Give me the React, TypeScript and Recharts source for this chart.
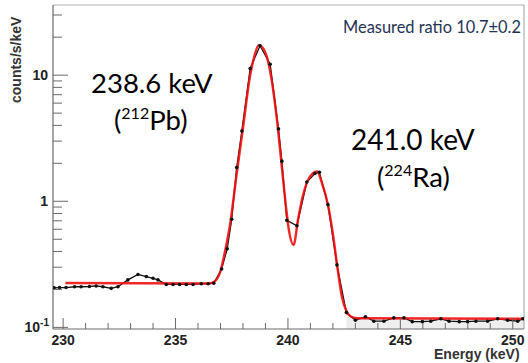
import React from 'react';
import { ComposedChart, Line, Area, XAxis, YAxis, ReferenceLine, Customized } from 'recharts';

// Measured spectrum (black points)
const energy = [
  229.6, 229.84, 230.13, 230.51, 230.8, 231.17, 231.47, 231.77, 232.14, 232.44,
  232.88, 233.33, 233.7, 234.0, 234.22, 234.59, 234.89, 235.18, 235.48, 235.78,
  236.15, 236.45, 236.7, 237.05, 237.3, 237.5, 237.72, 237.95, 238.32, 238.76,
  239.21, 239.58, 239.73, 239.95, 240.4, 240.84, 241.2, 241.4, 241.78, 242.18,
  242.6, 243.0, 243.45, 243.82, 244.27, 244.71, 245.16, 245.53, 245.98, 246.35,
  246.8, 247.17, 247.62, 247.99, 248.36, 248.88, 249.33, 249.77, 250.22, 250.45,
];
const counts = [
  0.206, 0.207, 0.207, 0.21, 0.21, 0.211, 0.213, 0.21, 0.204, 0.21,
  0.238, 0.263, 0.253, 0.245, 0.238, 0.219, 0.219, 0.219, 0.219, 0.219,
  0.222, 0.222, 0.224, 0.29, 0.42, 0.72, 1.85, 3.6, 11.3, 17.1,
  12.2, 3.75, 2.08, 0.706, 0.64, 1.42, 1.66, 1.7, 0.94, 0.313,
  0.131, 0.114, 0.1216, 0.112, 0.112, 0.119, 0.119, 0.111, 0.111, 0.112,
  0.117, 0.112, 0.111, 0.111, 0.112, 0.112, 0.117, 0.114, 0.112, 0.117,
];

// Fit curve (red)
const fitEnergy = [
  230.1, 236.5, 236.75, 237.0, 237.2, 237.45, 237.7, 238.0, 238.3, 238.5,
  238.7, 238.9, 239.1, 239.3, 239.5, 239.7, 239.9, 240.05, 240.25, 240.45,
  240.65, 240.85, 241.1, 241.3, 241.5, 241.8, 242.0, 242.2, 242.4, 242.6,
  242.8, 243.1, 250.5,
];
const fitCounts = [
  0.225, 0.223, 0.232, 0.28, 0.4, 0.7, 1.55, 3.8, 9.5, 14.0,
  17.3, 16.3, 13.2, 8.6, 4.6, 2.1, 0.95, 0.58, 0.45, 0.72,
  1.08, 1.42, 1.66, 1.72, 1.42, 0.9, 0.55, 0.3, 0.175, 0.135,
  0.122, 0.118, 0.117,
];

const xTicks = [230, 231, 232, 233, 234, 235, 236, 237, 238, 239, 240, 241, 242, 243, 244, 245, 246, 247, 248, 249, 250];
const xLabels = [230, 235, 240, 245, 250];
const yTicks = [0.1, 0.2, 0.3, 0.4, 0.5, 0.6, 0.7, 0.8, 0.9, 1, 2, 3, 4, 5, 6, 7, 8, 9, 10, 20, 30];
const yLabels = [0.1, 1, 10];

const X_MIN = 229.55;
const X_MAX = 250.5;
const Y_MIN = 0.0971;
const Y_MAX = 36;

const dataPts = energy.map((e, i) => ({ e, c: counts[i] }));
const fitPts = fitEnergy.map((e, i) => ({ e, f: fitCounts[i] }));
const fillPts = fitPts.filter((p) => p.e >= 242.6);

const AXIS = '#6a6a6a';
const TICKFONT = '"Liberation Sans", Arial, sans-serif';
const TEXTFONT = 'Lato, "Open Sans", sans-serif';

const XTick = (props: any) => {
  const { x, y, payload } = props;
  const v = payload.value;
  const major = xLabels.includes(v);
  return (
    <g>
      <line x1={x} x2={x} y1={y} y2={y - (major ? 11 : 6)} stroke={AXIS} strokeWidth={1} />
      {major && (
        <text x={x} y={y + 16} textAnchor="middle" fontFamily={TICKFONT} fontWeight="bold" fontSize={14} fill="#222">
          {v}
        </text>
      )}
    </g>
  );
};

const YTick = (props: any) => {
  const { x, y, payload } = props;
  const v = payload.value;
  const major = yLabels.includes(v);
  return (
    <g>
      <line x1={x} x2={x + (major ? 15 : 9)} y1={y} y2={y} stroke={AXIS} strokeWidth={1} />
      {major && v === 0.1 && (
        <text x={x - 4} y={y + 5} textAnchor="end" fontFamily={TICKFONT} fontWeight="bold" fontSize={14} fill="#222">
          10<tspan fontSize={10} dy={-6}>-1</tspan>
        </text>
      )}
      {major && v !== 0.1 && (
        <text x={x - 5} y={y + 5} textAnchor="end" fontFamily={TICKFONT} fontWeight="bold" fontSize={14} fill="#222">
          {v}
        </text>
      )}
    </g>
  );
};

const Annotations = () => (
  <g>
    <text x={343} y={33} fontFamily={TEXTFONT} fontSize={17} fill="#1f3354" textLength={178} lengthAdjust="spacingAndGlyphs">
      Measured ratio 10.7±0.2
    </text>
    <text x={91} y={93} fontFamily={TEXTFONT} fontSize={27.5} fill="#000">
      238.6 keV
    </text>
    <text x={114} y={130} fontFamily={TEXTFONT} fontSize={27.5} fill="#000">
      (<tspan fontSize={16} dy={-11}>212</tspan><tspan dy={11}>Pb)</tspan>
    </text>
    <text x={351} y={150} fontFamily={TEXTFONT} fontSize={28} fill="#000">
      241.0 keV
    </text>
    <text x={377} y={187} fontFamily={TEXTFONT} fontSize={27.5} fill="#000">
      (<tspan fontSize={16} dy={-11}>224</tspan><tspan dy={11}>Ra)</tspan>
    </text>
    <text
      x={17}
      y={103}
      transform="rotate(-90 17 103)"
      fontFamily={TICKFONT}
      fontWeight="bold"
      fontSize={14}
      fill="#333"
      dominantBaseline="middle"
    >
      counts/s/keV
    </text>
    <text x={434} y={359} fontFamily={TICKFONT} fontWeight="bold" fontSize={14} fill="#333">
      Energy (keV)
    </text>
  </g>
);

export default function App() {
  return (
    <div style={{ position: 'absolute', left: 0, top: 0, width: 528, height: 363, background: '#fff' }}>
      <ComposedChart width={528} height={363} margin={{ top: 5, right: 4, left: 0, bottom: 0 }}>
        <XAxis
          type="number"
          dataKey="e"
          domain={[X_MIN, X_MAX]}
          allowDataOverflow
          ticks={xTicks}
          interval={0}
          height={34}
          tickSize={0}
          tickMargin={0}
          tickLine={false}
          axisLine={{ stroke: AXIS, strokeWidth: 1.2 }}
          tick={<XTick />}
        />
        <YAxis
          type="number"
          scale="log"
          domain={[Y_MIN, Y_MAX]}
          allowDataOverflow
          ticks={yTicks}
          interval={0}
          width={53}
          tickSize={0}
          tickMargin={0}
          tickLine={false}
          axisLine={{ stroke: AXIS, strokeWidth: 1.2 }}
          tick={<YTick />}
        />
        <ReferenceLine y={Y_MAX} stroke="#b0b0b0" strokeWidth={1.2} ifOverflow="extendDomain" />
        <ReferenceLine x={X_MAX} stroke="#b0b0b0" strokeWidth={1.2} ifOverflow="extendDomain" />
        <Area
          data={fillPts}
          dataKey="f"
          type="monotone"
          stroke="none"
          fill="#eeeeee"
          fillOpacity={1}
          baseValue={Y_MIN}
          isAnimationActive={false}
        />
        <Line
          data={dataPts}
          dataKey="c"
          type="linear"
          stroke="#111"
          strokeWidth={1.3}
          dot={false}
          isAnimationActive={false}
        />
        <Line
          data={fitPts}
          dataKey="f"
          type="monotone"
          stroke="#f01010"
          strokeWidth={2.4}
          strokeOpacity={0.9}
          dot={false}
          isAnimationActive={false}
        />
        <Line
          data={dataPts}
          dataKey="c"
          type="linear"
          stroke="none"
          dot={{ r: 1.8, fill: '#111', stroke: 'none' }}
          isAnimationActive={false}
        />
        <Customized component={Annotations} />
      </ComposedChart>
    </div>
  );
}
